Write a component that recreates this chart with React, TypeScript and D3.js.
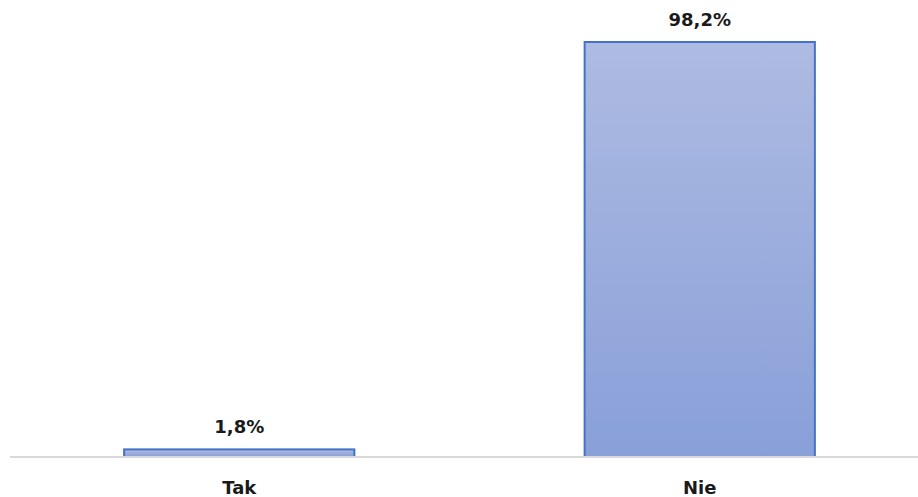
import React from "react";
import * as d3 from "d3";

const categories = ["Tak", "Nie"];
const values = [1.8, 98.2];
const valueLabels = ["1,8%", "98,2%"];

const W = 918;
const H = 497;

export default function App() {
  const x = d3
    .scaleBand<string>()
    .domain(categories)
    .range([9, 930])
    .paddingInner(0.5)
    .paddingOuter(0.25);
  const y = d3.scaleLinear().domain([0, 98.2]).range([457, 42]);

  return (
    <svg
      width={W}
      height={H}
      style={{ position: "absolute", left: 0, top: 0, background: "#fff" }}
      fontFamily="'DejaVu Sans', sans-serif"
    >
      <defs>
        <linearGradient id="barGrad" x1="0" y1="0" x2="0" y2="1">
          <stop offset="0%" stopColor="#aebbe2" />
          <stop offset="100%" stopColor="#889fd8" />
        </linearGradient>
      </defs>
      {categories.map((c, i) => {
        const bx = x(c)!;
        const by = y(values[i]);
        return (
          <g key={c}>
            <rect
              x={bx}
              y={by}
              width={x.bandwidth()}
              height={y(0) - by}
              fill="url(#barGrad)"
              stroke="#4472c4"
              strokeWidth={2}
            />
            <text
              x={bx + x.bandwidth() / 2}
              y={by - 16}
              textAnchor="middle"
              fontWeight="bold"
              fontSize={18}
              fill="#1a1a1a"
            >
              {valueLabels[i]}
            </text>
            <text
              x={bx + x.bandwidth() / 2}
              y={494}
              textAnchor="middle"
              fontWeight="bold"
              fontSize={18}
              fill="#1a1a1a"
            >
              {c}
            </text>
          </g>
        );
      })}
      <line x1={10} x2={918} y1={457} y2={457} stroke="#d9d9d9" strokeWidth={2} />
    </svg>
  );
}
